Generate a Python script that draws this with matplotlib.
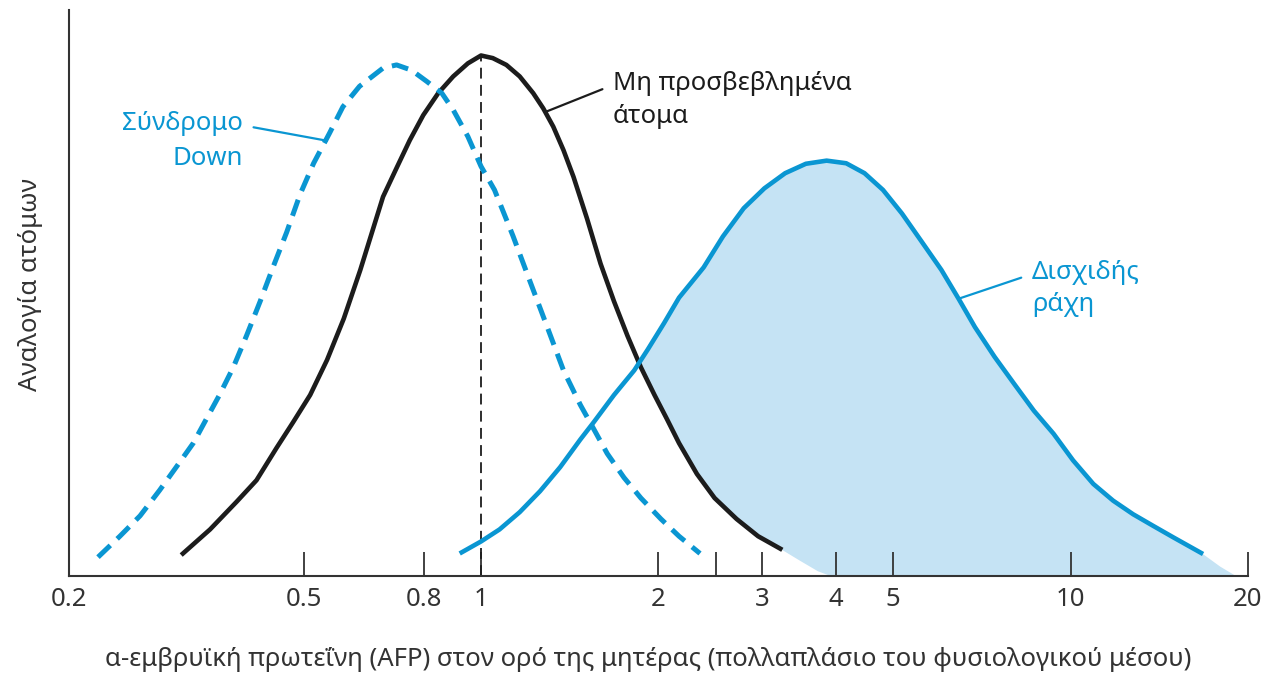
import numpy as np
import matplotlib
matplotlib.use("Agg")
import matplotlib.pyplot as plt

plt.rcParams['font.family'] = ['Noto Sans', 'DejaVu Sans']

# values: x = AFP (multiple of median), y = relative frequency
unaffected_x = [0.310, 0.347, 0.385, 0.416, 0.450, 0.480, 0.513, 0.548, 0.585, 0.624, 0.682,
                0.719, 0.757, 0.798, 0.846, 0.897, 0.950, 1.0, 1.047, 1.104, 1.163, 1.226,
                1.275, 1.326, 1.380, 1.435, 1.513, 1.595, 1.681, 1.772, 1.867, 1.969, 2.067,
                2.167, 2.324, 2.49, 2.713, 2.951, 3.244]
unaffected_y = [0.040, 0.089, 0.142, 0.183, 0.245, 0.294, 0.346, 0.413, 0.492, 0.585, 0.725,
                0.780, 0.833, 0.881, 0.923, 0.955, 0.980, 0.995, 0.990, 0.977, 0.955, 0.923,
                0.894, 0.859, 0.814, 0.763, 0.683, 0.597, 0.525, 0.459, 0.399, 0.346, 0.300,
                0.254, 0.195, 0.149, 0.109, 0.076, 0.050]

down_x = [0.224, 0.244, 0.264, 0.285, 0.304, 0.325, 0.342, 0.360, 0.380, 0.400, 0.422, 0.444,
          0.468, 0.493, 0.520, 0.553, 0.583, 0.622, 0.682, 0.719, 0.762, 0.810, 0.858, 0.897,
          0.950, 1.0, 1.054, 1.133, 1.210, 1.292, 1.380, 1.474, 1.553, 1.637, 1.748, 1.867,
          2.019, 2.167, 2.352]
down_y = [0.036, 0.076, 0.115, 0.164, 0.208, 0.254, 0.300, 0.346, 0.399, 0.459, 0.525, 0.591,
          0.657, 0.729, 0.789, 0.846, 0.897, 0.936, 0.971, 0.977, 0.967, 0.945, 0.923, 0.891,
          0.840, 0.783, 0.738, 0.650, 0.564, 0.479, 0.393, 0.327, 0.281, 0.234, 0.188, 0.149,
          0.109, 0.076, 0.043]

spina_x = [0.920, 1.0, 1.075, 1.163, 1.259, 1.362, 1.474, 1.553, 1.681, 1.819, 1.918, 2.043,
           2.167, 2.386, 2.572, 2.790, 3.024, 3.280, 3.556, 3.857, 4.163, 4.472, 4.807, 5.176,
           5.592, 6.039, 6.458, 6.882, 7.432, 8.027, 8.665, 9.357, 10.10, 10.93, 11.81,
           12.77, 13.80, 14.93, 16.78]
spina_y = [0.043, 0.066, 0.089, 0.122, 0.162, 0.208, 0.261, 0.294, 0.346, 0.393, 0.433, 0.483,
           0.532, 0.590, 0.649, 0.703, 0.741, 0.770, 0.788, 0.794, 0.789, 0.770, 0.738, 0.693,
           0.639, 0.585, 0.530, 0.476, 0.419, 0.367, 0.316, 0.272, 0.221, 0.176, 0.144,
           0.118, 0.096, 0.074, 0.042]

# faded tails that only bound the shaded area
unaffected_tail_x = [3.47, 3.72, 3.93]
unaffected_tail_y = [0.030, 0.010, 0.0]
spina_tail_x = [17.9, 19.1]
spina_tail_y = [0.019, 0.0]

tick_values = [0.2, 0.5, 0.8, 1, 2, 2.5, 3, 4, 5, 10, 20]
tick_labels = ['0.2', '0.5', '0.8', '1', '2', '', '3', '4', '5', '10', '20']

BLUE = '#0a96d2'
FILL = '#c5e3f4'
DARK = '#1c1c1c'
GREY = '#333333'
FS = 18.5

fig = plt.figure(figsize=(12.8, 6.75), dpi=100)
ax = fig.add_axes([0.0539, 0.1467, 0.9211, 0.8385])
ax.set_xscale('log')
ax.set_xlim(0.2, 20)
ax.set_ylim(0, 1.082)

# shaded area: under the spina bifida curve, above the unaffected curve
sx = np.array(spina_x + spina_tail_x)
sy = np.array(spina_y + spina_tail_y)
ux = np.array(unaffected_x + unaffected_tail_x)
uy = np.array(unaffected_y + unaffected_tail_y)
grid = np.union1d(sx, ux[(ux > sx.min()) & (ux < sx.max())])
upper = np.interp(np.log10(grid), np.log10(sx), sy)
lower = np.interp(np.log10(grid), np.log10(ux), uy, left=0, right=0)
ax.fill_between(grid, lower, upper, where=upper >= lower, interpolate=True,
                color=FILL, lw=0, zorder=1)

ax.vlines(1, 0, max(unaffected_y), colors=DARK, lw=1.3, linestyles=(0, (6, 3.5)), zorder=2)
ax.plot(unaffected_x, unaffected_y, color=DARK, lw=3.3, solid_capstyle='butt',
        solid_joinstyle='round', zorder=3)
ax.plot(down_x, down_y, color=BLUE, lw=3.6, linestyle=(0, (3.4, 1.9)), zorder=4)
ax.plot(spina_x, spina_y, color=BLUE, lw=3.3, solid_capstyle='butt',
        solid_joinstyle='round', zorder=5)

# labels with leader lines
ax.annotate('Σύνδρομο\nDown', xy=(0.548, 0.832), xytext=(0.394, 0.832),
            ha='right', va='center', multialignment='right', fontsize=FS, color=BLUE,
            linespacing=1.5,
            arrowprops=dict(arrowstyle='-', color=BLUE, lw=1.6, relpos=(1.0, 0.76),
                            shrinkA=6, shrinkB=0))
ax.annotate('Μη προσβεβλημένα\nάτομα', xy=(1.292, 0.888), xytext=(1.674, 0.910),
            ha='left', va='center', multialignment='left', fontsize=FS, color=DARK,
            linespacing=1.4,
            arrowprops=dict(arrowstyle='-', color=DARK, lw=1.6, relpos=(0.0, 0.76),
                            shrinkA=6, shrinkB=0))
ax.annotate('Δισχιδής\nράχη', xy=(6.458, 0.530), xytext=(8.60, 0.549),
            ha='left', va='center', multialignment='left', fontsize=FS, color=BLUE,
            linespacing=1.35,
            arrowprops=dict(arrowstyle='-', color=BLUE, lw=1.6, relpos=(0.0, 0.76),
                            shrinkA=6, shrinkB=0))

ax.set_xticks(tick_values)
ax.set_xticklabels(tick_labels)
ax.xaxis.set_minor_locator(matplotlib.ticker.NullLocator())
ax.tick_params(axis='x', direction='in', length=17, width=1.3, color=GREY,
               labelsize=FS, labelcolor=GREY, pad=8)
ax.set_yticks([])

for side in ['top', 'right']:
    ax.spines[side].set_visible(False)
for side in ['left', 'bottom']:
    ax.spines[side].set_linewidth(1.5)
    ax.spines[side].set_color(GREY)

ax.set_xlabel('α-εμβρυϊκή πρωτεΐνη (AFP) στον ορό της μητέρας (πολλαπλάσιο του φυσιολογικού μέσου)',
              fontsize=FS, color=GREY)
ax.xaxis.set_label_coords(0.491, -0.125)
ax.set_ylabel('Αναλογία ατόμων', fontsize=FS, color=GREY)
ax.yaxis.set_label_coords(-0.022, 0.514)

fig.savefig('out.png', dpi=100)
